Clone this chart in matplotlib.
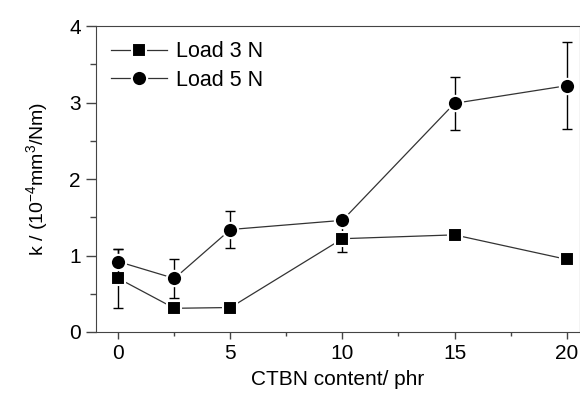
import matplotlib
matplotlib.use('Agg')
import matplotlib.pyplot as plt
from matplotlib.ticker import MultipleLocator

plt.rcParams['font.family'] = ['Liberation Sans', 'DejaVu Sans']
plt.rcParams['mathtext.fontset'] = 'custom'
plt.rcParams['mathtext.rm'] = 'Liberation Sans'
plt.rcParams['mathtext.it'] = 'Liberation Sans:italic'

ctbn = [0, 2.5, 5, 10, 15, 20]
k_3n = [0.70, 0.31, 0.32, 1.22, 1.27, 0.95]
err_3n = [0.39, 0.0, 0.0, 0.17, 0.0, 0.0]
k_5n = [0.92, 0.70, 1.34, 1.46, 2.99, 3.22]
err_5n = [0.17, 0.25, 0.24, 0.0, 0.35, 0.57]

fig = plt.figure(figsize=(5.8, 3.95), dpi=100)
ax = fig.add_axes([0.1655, 0.1595, 0.8345, 0.7745])

for y, err, marker, ms, label in ((k_3n, err_3n, 's', 10, 'Load 3 N'),
                                   (k_5n, err_5n, 'o', 11, 'Load 5 N')):
    ax.errorbar(ctbn, y, yerr=err, fmt='none', ecolor='black',
                elinewidth=1, capsize=3.5, capthick=1)
    ax.plot(ctbn, y, color='#333333', lw=0.9, marker=marker, ms=ms,
            mfc='black', mec='white', mew=1.5, label=label)

ax.set_xlim(-1, 20.6)
ax.set_ylim(0, 4)
ax.xaxis.set_major_locator(MultipleLocator(5))
ax.xaxis.set_minor_locator(MultipleLocator(2.5))
ax.yaxis.set_major_locator(MultipleLocator(1))
ax.yaxis.set_minor_locator(MultipleLocator(0.5))
ax.tick_params(which='both', direction='out', width=1, color='#444444',
               top=False, right=False)
ax.tick_params(axis='x', which='major', length=5, labelsize=15, pad=4)
ax.tick_params(axis='x', which='minor', length=3)
ax.tick_params(axis='y', which='major', length=7, labelsize=15, pad=4)
ax.tick_params(axis='y', which='minor', length=4)
for s in ax.spines.values():
    s.set_color('#444444')

ax.set_xlabel('CTBN content/ phr', fontsize=15, labelpad=5)
ax.set_ylabel('k / (10$^{-4}$mm$^3$/Nm)', fontsize=14, labelpad=14)

ax.legend(loc='upper left', frameon=False, fontsize=15.5, handlelength=2.6,
          handletextpad=0.4, borderaxespad=0.3, labelspacing=0.35,
          bbox_to_anchor=(0.0, 1.0))

fig.savefig('out.png', dpi=100)
